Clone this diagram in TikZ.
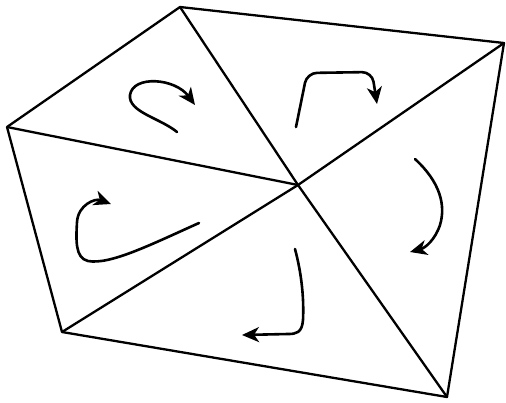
\documentclass[tikz,border=0pt]{standalone}
\usepackage{tikz}
\usetikzlibrary{arrows.meta}
\tikzset{
  edge/.style={line width=2.3pt, line join=round},
  flow/.style={line width=2.6pt, line cap=round, -{Stealth[length=17pt,width=15pt,inset=5pt]}}
}
\begin{document}
\begin{tikzpicture}[x=1pt, y=-1pt]

  \useasboundingbox (0,0) rectangle (506,402);

  \coordinate (top)  at (180,7);
  \coordinate (ne)   at (504,43);
  \coordinate (se)   at (447,397);
  \coordinate (sw)   at (62,332);
  \coordinate (west) at (7,127);
  \coordinate (hub)  at (298,185);

  \draw[edge] (top) -- (ne) -- (se) -- (sw) -- (west) -- cycle;
  \foreach \v in {top, ne, se, sw, west}
    \draw[edge] (hub) -- (\v);

  \draw[flow] (177,132) .. controls (160,118) and (128,112) .. (130,95)
              .. controls (133,75) and (175,78) .. (195,105);
  \draw[flow, rounded corners=10pt] (296,127) -- (307,73) -- (372,72) -- (377,104);
  \draw[flow] (415,159) .. controls (440,182) and (446,205) .. (440,225)
              .. controls (435,240) and (425,248) .. (410,252);
  \draw[flow] (295,249) .. controls (302,275) and (304,300) .. (303,320)
              .. controls (302,333) and (296,334) .. (288,334) -- (242,335);
  \draw[flow] (199,223) .. controls (150,245) and (110,265) .. (88,261)
              .. controls (75,258) and (76,240) .. (77,222)
              .. controls (78,205) and (95,198) .. (111,204);

\end{tikzpicture}
\end{document}
